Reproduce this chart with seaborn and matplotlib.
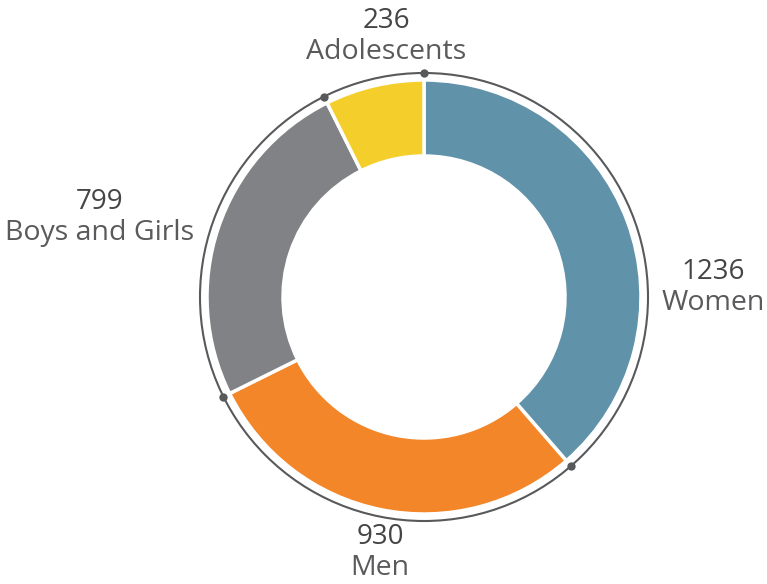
import numpy as np
import matplotlib.pyplot as plt
import seaborn as sns
from matplotlib.patches import Circle

# data
groups = ['Women', 'Men', 'Boys and Girls', 'Adolescents']
counts = [1236, 930, 799, 236]
colors = ['#6093a9', '#f4862a', '#808285', '#f4ce2b']

# label anchor points (pixels, y up) for each group
label_pos = [(713, 296), (380, 31), (100, 366), (386, 547)]

sns.set_theme(style='white')
plt.rcParams['font.family'] = ['Open Sans', 'DejaVu Sans']

W, H = 767, 584
fig = plt.figure(figsize=(W / 100, H / 100), dpi=100)
ax = fig.add_axes([0, 0, 1, 1])

cx, cy = 424, 287
r_out, ring_w, r_ring = 217, 76, 224

ax.pie(counts, colors=colors, startangle=90, counterclock=False,
       radius=r_out, center=(cx, cy),
       wedgeprops=dict(width=ring_w, edgecolor='white', linewidth=2.5))

# thin outer ring with markers at slice boundaries
ax.add_patch(Circle((cx, cy), r_ring, fill=False, edgecolor='#58595b', linewidth=1.5))
cum = np.concatenate([[0], np.cumsum(counts)[:-1]]) / sum(counts)
theta = np.deg2rad(90 - 360 * cum)
ax.scatter(cx + r_ring * np.cos(theta), cy + r_ring * np.sin(theta),
           s=36, color='#58595b', zorder=5, linewidths=0)

for name, n, (x, y) in zip(groups, counts, label_pos):
    ax.text(x, y + 2, str(n), ha='center', va='bottom', fontsize=20,
            color='#454547')
    ax.text(x, y - 1, name, ha='center', va='top', fontsize=20.5,
            color='#5a5a5c')

ax.set_xlim(0, W)
ax.set_ylim(0, H)
ax.set_aspect('equal')
ax.axis('off')

fig.savefig('out.png', dpi=100, facecolor='white')
